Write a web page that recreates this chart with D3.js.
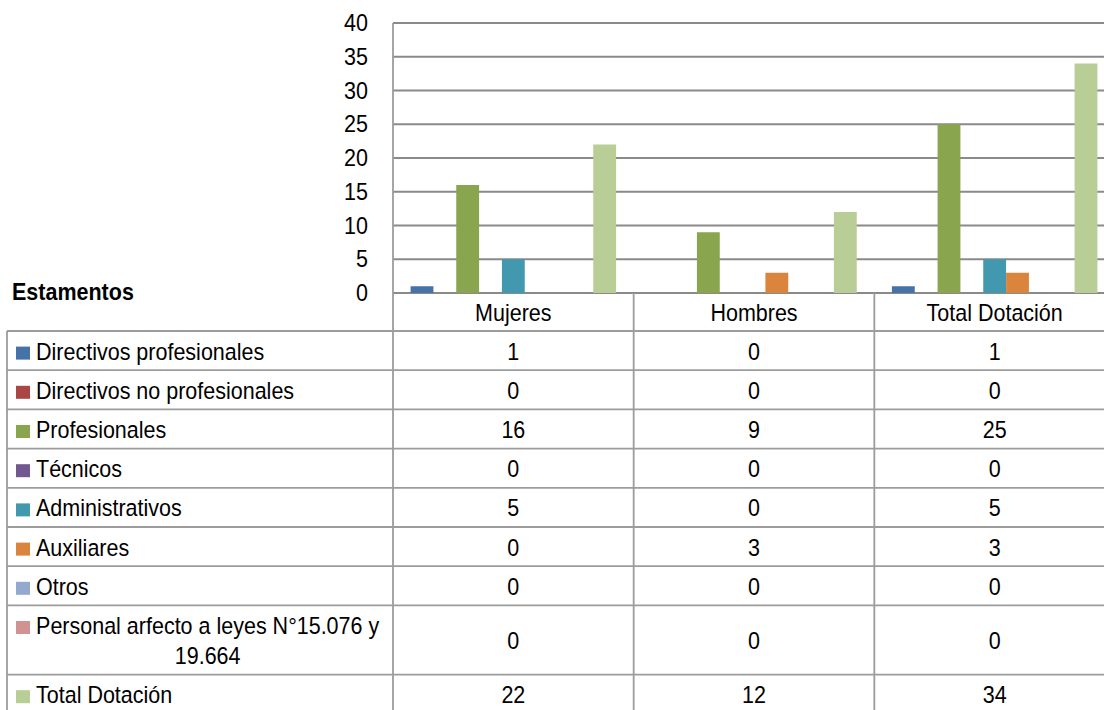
<!DOCTYPE html>
<html>
<head>
<meta charset="utf-8">
<script src="https://cdn.jsdelivr.net/npm/d3@7"></script>
<style>
  body { margin: 0; background: #fff; }
  svg { display: block; font-family: "Liberation Sans", Arial, sans-serif; }
</style>
</head>
<body>
<svg id="chart" width="1104" height="710"></svg>
<script>
// data
const categories = ["Mujeres", "Hombres", "Total Dotación"];
const series = [
  "Directivos profesionales",
  "Directivos no profesionales",
  "Profesionales",
  "Técnicos",
  "Administrativos",
  "Auxiliares",
  "Otros",
  "Personal arfecto a leyes N°15.076 y 19.664",
  "Total Dotación",
];
const mujeres = [1, 0, 16, 0, 5, 0, 0, 0, 22];
const hombres = [0, 0, 9, 0, 0, 3, 0, 0, 12];
const total = [1, 0, 25, 0, 5, 3, 0, 0, 34];
const yTicks = [0, 5, 10, 15, 20, 25, 30, 35, 40];
const colors = ["#4572A7", "#AA4643", "#89A54E", "#71588F", "#4198AF",
                "#DB843D", "#93A9CF", "#D19392", "#B9CD96"];

const values = [mujeres, hombres, total];
const FS = 21.5;   // font size
const SY = 1.1;    // the original text is a bit stretched vertically
const gridColor = "#8a8a8a";
const lineColor = "#9c9c9c";

const svg = d3.select("#chart");

const x0 = d3.scaleBand().domain(categories).range([393, 1115]);
const x1 = d3.scaleBand().domain(series).range([0, x0.bandwidth()])
  .paddingInner(0).paddingOuter(0.77);
const y = d3.scaleLinear().domain([0, 40]).range([293, 23]);
const color = d3.scaleOrdinal().domain(series).range(colors);

// stretched text helper
const addText = (g, x, yy, txt, anchor, bold) =>
  g.append("text")
    .attr("transform", `translate(${x},${yy}) scale(1,${SY})`)
    .attr("text-anchor", anchor || "start")
    .style("font-size", FS + "px")
    .style("font-weight", bold ? "bold" : "normal")
    .style("fill", "#000")
    .text(txt);

// grid lines
svg.append("g")
  .selectAll("line")
  .data(yTicks)
  .enter()
  .append("line")
  .attr("x1", 393)
  .attr("x2", 1115)
  .attr("y1", (d) => y(d))
  .attr("y2", (d) => y(d))
  .style("stroke", gridColor)
  .style("stroke-width", 1.8);

// y axis labels
const yl = svg.append("g");
yTicks.forEach((t) => addText(yl, 368, y(t) + 8, t, "end"));

// bars
const groups = svg.append("g")
  .selectAll("g")
  .data(categories)
  .enter()
  .append("g")
  .attr("transform", (d) => `translate(${x0(d)},0)`);
groups
  .selectAll("rect")
  .data((c, ci) => series.map((s, si) => ({ s, v: values[ci][si] })))
  .enter()
  .append("rect")
  .attr("x", (d) => x1(d.s))
  .attr("width", x1.bandwidth())
  .attr("y", (d) => y(d.v))
  .attr("height", (d) => y(0) - y(d.v))
  .style("fill", (d) => color(d.s));

// table
const table = svg.append("g");
const rowH = 39.2;
const lineGap = 30;
const leftX = 7;
const textX = 36;
const maxW = 362;

// header row: category names
categories.forEach((c) => addText(table, x0(c) + x0.bandwidth() / 2, 321, c, "middle"));
addText(table, 12, 300, "Estamentos", "start", true);

// wrap labels by measuring
const measure = svg.append("text").style("font-size", FS + "px");
const wrap = (label) => {
  const words = label.split(" ");
  const lines = [];
  let cur = "";
  words.forEach((w) => {
    const test = cur ? cur + " " + w : w;
    measure.text(test);
    if (measure.node().getComputedTextLength() > maxW && cur) {
      lines.push(cur);
      cur = w;
    } else cur = test;
  });
  lines.push(cur);
  return lines;
};

let rowY = 331;
const rowTops = [331];
series.forEach((s, si) => {
  const lines = wrap(s);
  const h = lines.length > 1 ? rowH + lineGap * (lines.length - 1) : rowH;
  const mid = rowY + h / 2;
  const base0 = mid + 9 - (lines.length - 1) * lineGap / 2;
  let widest = 0;
  lines.forEach((l) => {
    measure.text(l);
    widest = Math.max(widest, measure.node().getComputedTextLength());
  });
  table.append("rect")
    .attr("x", 16)
    .attr("y", base0 - 13)
    .attr("width", 14)
    .attr("height", 13)
    .style("fill", color(s));
  lines.forEach((l, li) => {
    addText(table, textX + widest / 2, base0 + li * lineGap, l, "middle");
  });
  categories.forEach((c, ci) => {
    addText(table, x0(c) + x0.bandwidth() / 2, mid + 9, values[ci][si], "middle");
  });
  rowY += h;
  rowTops.push(rowY);
});
measure.remove();

// horizontal table lines
table.selectAll("line.h")
  .data(rowTops)
  .enter()
  .append("line")
  .attr("class", "h")
  .attr("x1", leftX)
  .attr("x2", 1115)
  .attr("y1", (d) => d)
  .attr("y2", (d) => d)
  .style("stroke", lineColor)
  .style("stroke-width", 1.8);

// vertical table lines
table.append("line")
  .attr("x1", leftX).attr("x2", leftX)
  .attr("y1", 331).attr("y2", rowY)
  .style("stroke", lineColor).style("stroke-width", 1.8);
const vx = categories.map((c) => x0(c)).concat([x0.range()[1]]);
table.selectAll("line.v")
  .data(vx)
  .enter()
  .append("line")
  .attr("class", "v")
  .attr("x1", (d) => d)
  .attr("x2", (d) => d)
  .attr("y1", (d, i) => (i === 0 ? 23 : 293))
  .attr("y2", rowY)
  .style("stroke", lineColor)
  .style("stroke-width", 1.8);
</script>
</body>
</html>
